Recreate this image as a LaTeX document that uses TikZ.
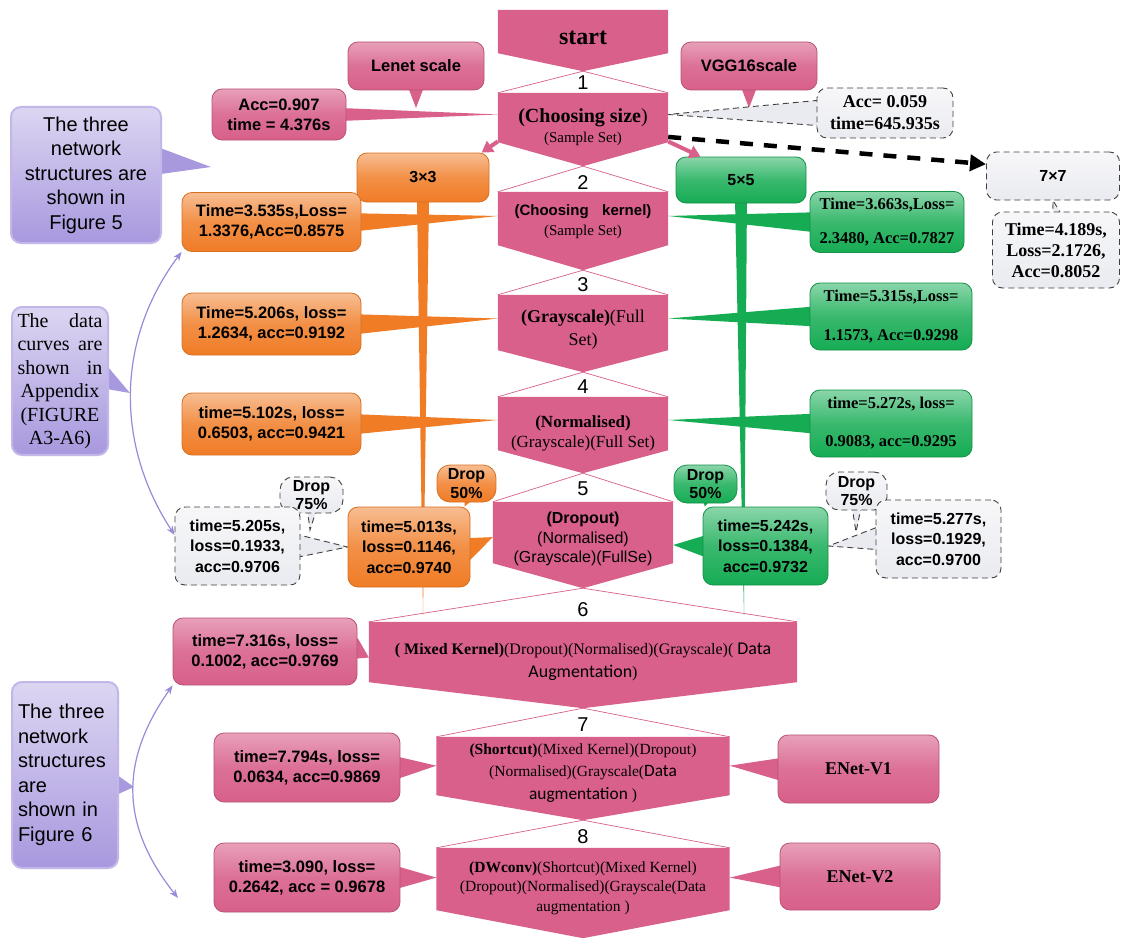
\documentclass[tikz,border=0pt]{standalone}
\usepackage{fontspec}
\setmainfont{Liberation Serif}
\setsansfont{Liberation Sans}
\newfontfamily\carl[Scale=1.12]{Carlito}
\usetikzlibrary{calc,arrows.meta,backgrounds}
\definecolor{pinkc}{RGB}{216,96,139}
\definecolor{orangec}{RGB}{240,124,38}
\definecolor{greenc}{RGB}{22,172,84}
\definecolor{purplec}{RGB}{168,152,222}
\definecolor{grayc}{RGB}{234,235,240}
\definecolor{lavc}{RGB}{150,140,218}
\newcommand\calltail[5][]{\fill[#1] ($(#2.#3)!-6pt!(#5)!#4!90:(#5)$) -- (#5) -- ($(#2.#3)!-6pt!(#5)!#4!-90:(#5)$) -- cycle;}
\begin{document}
\begin{tikzpicture}[x=1pt,y=-1pt,line join=round,
  box/.style={rounded corners=10pt,align=center,inner sep=1pt},
  pinkbox/.style={box,top color=pinkc!60!white,bottom color=pinkc,middle color=pinkc!90!white,draw=pinkc!85!black,line width=0.8pt,font=\sffamily\bfseries\fontsize{16.5}{20}\selectfont},
  orbox/.style={box,top color=orangec!50!white,bottom color=orangec,middle color=orangec!85!white,draw=orangec!90!black,line width=0.8pt,font=\sffamily\bfseries\fontsize{16.5}{20}\selectfont},
  grbox/.style={box,top color=greenc!50!white,bottom color=greenc,middle color=greenc!85!white,draw=greenc!85!black,line width=0.8pt,font=\bfseries\fontsize{16.5}{20}\selectfont},
  gybox/.style={box,top color=grayc!40!white,bottom color=grayc,draw=black!75,dash pattern=on 6pt off 4pt,line width=0.9pt,font=\sffamily\bfseries\fontsize{16}{20.5}\selectfont},
  gytail/.style={fill=grayc,draw=black!75,dash pattern=on 6pt off 4pt,line width=0.9pt},
  pubox/.style={box,top color=purplec!40!white,bottom color=purplec,draw=purplec!70!white,line width=2pt,font=\sffamily\fontsize{20}{24.5}\selectfont},
  steptext/.style={align=center,inner sep=0pt},
  num/.style={font=\sffamily\fontsize{20}{22}\selectfont,inner sep=0pt},
  twoway/.style={lavc,line width=1.2pt,{Stealth[length=9pt,width=7pt]}-{Stealth[length=9pt,width=7pt]}}]
\useasboundingbox (0,0) rectangle (1121,939);
\coordinate (lenettip) at (416,108);
\coordinate (vggtip) at (749,108);
\coordinate (pu1tip) at (211,167);
\coordinate (pu2tip) at (130,393);
\coordinate (pu3tip) at (134,787);
\coordinate (stem3) at (423,615);
\coordinate (stem5) at (744,615);
\coordinate (dltip) at (310,530);
\coordinate (drtip) at (856,532);
\coordinate (arcend) at (178,898);

\foreach \sn/\cy/\sw/\sh/\sd in {st/40.5/170/61/18, s1/129.5/170/73/24, s2/231/170/78/25, s3/333.5/170/77/22, s4/435/170/76/23, s5/545/180/86/25, s6/665/428/86/26, s7/778.5/293/83/25, s8/893/293/90/28}{
  \node[minimum width=\sw pt,minimum height=\sh pt,inner sep=0pt] (\sn) at (583,\cy) {};
  \fill[pinkc] (\sn.north west) -- (\sn.north east) -- ($(\sn.south east)+(0,-\sd)$) -- (\sn.south) -- ($(\sn.south west)+(0,-\sd)$) -- cycle;
}
\foreach \a/\b in {st/s1,s1/s2,s2/s3,s3/s4,s4/s5,s5/s6,s6/s7,s7/s8}
  \draw[pinkc,line width=0.7pt] (\b.north west) -- (\a.south) -- (\b.north east);
\foreach \i/\cy in {1/83,2/183,3/285,4/387,5/489,6/610,7/725,8/837}
  \node[num] (n\i) at (583,\cy) {\i};

\node[steptext,font=\bfseries\fontsize{24}{26}\selectfont] (stt) at (583,38) {start};
\node[steptext,font=\fontsize{15}{20}\selectfont] (s1t) at (583,127) {{\fontsize{20}{22}\selectfont\textbf{(Choosing size})}\\(Sample Set)};
\node[steptext,font=\fontsize{15}{20}\selectfont] (s2t) at (583,222) {{\sffamily\bfseries (Choosing\hspace{0.9em}kernel)}\\(Sample Set)};
\node[steptext,font=\fontsize{18}{23}\selectfont] (s3t) at (583,329.5) {\textbf{(Grayscale)}(Full\\Set)};
\node[steptext,font=\fontsize{17}{20}\selectfont] (s4t) at (583,433) {\textbf{(Normalised)}\\(Grayscale)(Full Set)};
\node[steptext,font=\sffamily\fontsize{16}{19.5}\selectfont] (s5t) at (583,539) {\textbf{(Dropout)}\\(Normalised)\\(Grayscale)(FullSe)};
\node[steptext,font=\fontsize{16}{23}\selectfont] (s6t) at (583,661.5) {\textbf{( Mixed Kernel)}(Dropout)(Normalised)(Grayscale)( {\carl Data}\\{\carl Augmentation})};
\node[steptext,font=\fontsize{15.5}{22.5}\selectfont] (s7t) at (583,773) {\textbf{(Shortcut)}(Mixed Kernel)(Dropout)\\(Normalised)(Grayscale({\carl Data}\\{\carl augmentation} )};
\node[steptext,font=\fontsize{15.5}{19.5}\selectfont] (s8t) at (583,888) {\textbf{(DWconv)}(Shortcut)(Mixed Kernel)\\(Dropout)(Normalised)(Grayscale(Data\\augmentation )};

\node[pinkbox,minimum width=136pt,minimum height=48pt] (lenet) at (416,66) {Lenet scale};
\node[pinkbox,minimum width=134pt,minimum height=51pt] (acc1) at (279,114.5) {Acc=0.907\\time = 4.376s};
\node[pinkbox,minimum width=136pt,minimum height=48pt] (vgg) at (749,66) {VGG16scale};
\node[gybox,minimum width=136pt,minimum height=50pt,font=\bfseries\fontsize{18}{22}\selectfont] (acc2) at (885,113) {Acc= 0.059\\time=645.935s};
\node[gybox,minimum width=133pt,minimum height=48pt] (seven) at (1053,176) {7×7};
\node[gybox,minimum width=127pt,minimum height=76pt,font=\bfseries\fontsize{18}{21}\selectfont] (t7) at (1056,250) {Time=4.189s,\\Loss=2.1726,\\Acc=0.8052};

\node[pubox,minimum width=150pt,minimum height=136pt] (pu1) at (86,175) {The three\\network\\structures are\\shown in\\Figure 5};
\node[pubox,minimum width=96pt,minimum height=148pt,font=\fontsize{20}{23.5}\selectfont] (pu2) at (60,381) {\makebox[85pt][s]{The data}\\\makebox[85pt][s]{curves are}\\\makebox[85pt][s]{shown in}\\Appendix\\(FIGURE\\A3-A6)};
\node[pubox,minimum width=106pt,minimum height=186pt,text width=94pt,align=left] (pu3) at (65,775) {The three\\network\\structures\\are\\shown in\\Figure 6};

\node[orbox,minimum width=132pt,minimum height=49pt,font=\sffamily\bfseries\fontsize{16}{20}\selectfont] (b3) at (423,177.5) {3×3};
\node[orbox,minimum width=179pt,minimum height=59pt] (o2) at (271.5,222) {Time=3.535s,Loss=\\1.3376,Acc=0.8575};
\node[orbox,minimum width=179pt,minimum height=62pt] (o3) at (271.5,324) {Time=5.206s, loss=\\1.2634, acc=0.9192};
\node[orbox,minimum width=179pt,minimum height=62pt] (o4) at (271.5,424) {time=5.102s, loss=\\0.6503, acc=0.9421};
\node[orbox,minimum width=59pt,minimum height=37pt,rounded corners=13pt,font=\sffamily\bfseries\fontsize{16}{18.5}\selectfont] (do) at (466.5,483.5) {Drop\\50\%};
\node[orbox,minimum width=122pt,minimum height=80pt,font=\sffamily\bfseries\fontsize{16}{20.5}\selectfont] (o5) at (409,547) {time=5.013s,\\loss=0.1146,\\acc=0.9740};

\node[grbox,minimum width=130pt,minimum height=46pt,font=\sffamily\bfseries\fontsize{16}{20}\selectfont] (b5) at (741,180) {5×5};
\node[grbox,minimum width=154pt,minimum height=61pt,font=\bfseries\fontsize{16.5}{34}\selectfont] (g2) at (887,222) {Time=3.663s,Loss=\\2.3480, Acc=0.7827};
\node[grbox,minimum width=162pt,minimum height=67pt,font=\bfseries\fontsize{16.5}{39}\selectfont] (g3) at (891,316.5) {Time=5.315s,Loss=\\1.1573, Acc=0.9298};
\node[grbox,minimum width=162pt,minimum height=67pt,font=\bfseries\fontsize{16.5}{38}\selectfont] (g4) at (891,423.5) {time=5.272s, loss=\\0.9083, acc=0.9295};
\node[grbox,minimum width=63pt,minimum height=38pt,rounded corners=13pt,font=\sffamily\bfseries\fontsize{16}{18.5}\selectfont] (dg) at (705.5,484) {Drop\\50\%};
\node[grbox,minimum width=125pt,minimum height=78pt,font=\sffamily\bfseries\fontsize{16}{20.5}\selectfont] (g5) at (765.5,546) {time=5.242s,\\loss=0.1384,\\acc=0.9732};

\node[gybox,minimum width=63pt,minimum height=36pt,rounded corners=13pt,font=\sffamily\bfseries\fontsize{16}{18.5}\selectfont] (dl) at (311.5,495) {Drop\\75\%};
\node[gybox,minimum width=125pt,minimum height=78pt] (gl) at (237.5,546) {time=5.205s,\\loss=0.1933,\\acc=0.9706};
\node[gybox,minimum width=61pt,minimum height=38pt,rounded corners=13pt,font=\sffamily\bfseries\fontsize{16}{18.5}\selectfont] (dr) at (856.5,491) {Drop\\75\%};
\node[gybox,minimum width=125pt,minimum height=78pt] (gr) at (938.5,539) {time=5.277s,\\loss=0.1929,\\acc=0.9700};

\node[pinkbox,minimum width=184pt,minimum height=67pt] (p6) at (265,651.5) {time=7.316s, loss=\\0.1002, acc=0.9769};
\node[pinkbox,minimum width=186pt,minimum height=69pt] (p7) at (307,767.5) {time=7.794s, loss=\\0.0634, acc=0.9869};
\node[pinkbox,minimum width=186pt,minimum height=69pt] (p8) at (307,877.5) {time=3.090, loss=\\0.2642, acc = 0.9678};
\node[pinkbox,minimum width=161pt,minimum height=68pt,font=\bfseries\fontsize{18}{20}\selectfont] (e1) at (858.5,769) {ENet-V1};
\node[pinkbox,minimum width=160pt,minimum height=67pt,font=\bfseries\fontsize{18}{20}\selectfont] (e2) at (860,876.5) {ENet-V2};

\draw[pinkc,line width=4pt,-{Triangle[length=11pt,width=13pt]}] (s1.188) -- (b3.23);
\draw[pinkc,line width=4pt,-{Triangle[length=11pt,width=13pt]}] (s1.352) -- (b5.150);
\draw[line width=4.5pt,line cap=butt,dash pattern=on 13pt off 11pt,-{Triangle[length=16pt,width=16pt]}] (s1.355) -- (seven.170);
\draw[twoway] (o2.south west) .. controls +(-66,88) and +(-59,-90) .. (gl.170);
\draw[twoway] (p6.south west) .. controls +(-53,75) and +(-58,-73) .. (arcend);

\begin{scope}[on background layer]
\fill[white] (0,0) rectangle (1121,939);
\calltail[pinkc]{lenet}{south}{9pt}{lenettip}
\calltail[pinkc]{vgg}{south}{9pt}{vggtip}
\calltail[pinkc]{acc1}{east}{6.5pt}{s1.170}
\calltail[gytail]{acc2}{west}{13pt}{s1.10}
\calltail[gytail]{t7}{north}{5pt}{seven.south}
\calltail[purplec]{pu1}{10}{14pt}{pu1tip}
\calltail[purplec]{pu2}{east}{11pt}{pu2tip}
\calltail[purplec]{pu3}{349}{12pt}{pu3tip}
\calltail[orangec]{b3}{south}{6pt}{stem3}
\calltail[greenc]{b5}{south}{6pt}{stem5}
\calltail[orangec]{o2}{east}{9pt}{s2.170}
\calltail[orangec]{o3}{east}{10pt}{s3.170}
\calltail[orangec]{o4}{east}{10pt}{s4.170}
\calltail[greenc]{g2}{west}{10pt}{s2.10}
\calltail[greenc]{g3}{west}{10pt}{s3.10}
\calltail[greenc]{g4}{west}{10pt}{s4.10}
\calltail[orangec]{o5}{east}{12pt}{s5.175}
\calltail[greenc]{g5}{west}{12pt}{s5.east}
\calltail[orangec]{do}{south}{5pt}{o5.36}
\calltail[greenc]{dg}{south}{5pt}{g5.147}
\calltail[gytail]{gl}{east}{12pt}{o5.west}
\calltail[gytail]{gr}{west}{12pt}{g5.east}
\calltail[gytail]{dl}{south}{5pt}{dltip}
\calltail[gytail]{dr}{south}{5pt}{drtip}
\calltail[pinkc]{p6}{east}{12pt}{s6.178}
\calltail[pinkc]{p7}{east}{12pt}{s7.175}
\calltail[pinkc]{p8}{east}{12pt}{s8.174}
\calltail[pinkc]{e1}{west}{12pt}{s7.5}
\calltail[pinkc]{e2}{west}{12pt}{s8.6}
\end{scope}
\end{tikzpicture}
\end{document}
